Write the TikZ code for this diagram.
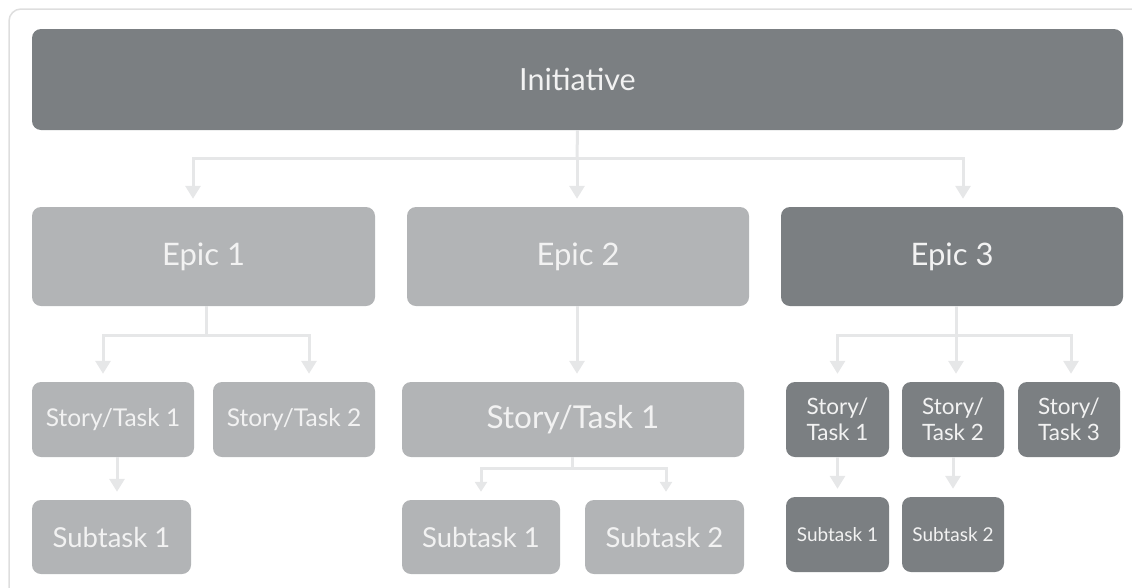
\documentclass[tikz,border=0pt]{standalone}
\usepackage{fontspec}
\setmainfont{Lato}
\usetikzlibrary{arrows.meta}

\definecolor{darkbox}{HTML}{7B7F82}
\definecolor{lightbox}{HTML}{B2B4B6}
\definecolor{linkgray}{HTML}{E6E7E8}
\definecolor{framegray}{HTML}{DEDEDE}

\tikzset{
    box/.style={rounded corners=9pt, inner sep=0pt, align=center, text=white!95!black},
    darkfill/.style={box, fill=darkbox},
    lightfill/.style={box, fill=lightbox},
    link/.style={draw=linkgray, line width=3pt},
    linkarrow/.style={link, -{Triangle[width=15pt,length=13pt]}, shorten >=8pt},
}

\begin{document}
\begin{tikzpicture}[x=1pt, y=-1pt]
    \useasboundingbox (0,0) rectangle (1132,587);

        % Outer frame
        \draw[framegray, line width=1.5pt, rounded corners=12pt] (9,600) -- (9,9) -- (1145,9);

        % Top level
        \node[darkfill, minimum width=1091pt, minimum height=101pt, font=\fontsize{30.5}{36}\selectfont] (init) at (577.5,79.5) {Initiative};

        % Epics
        \node[lightfill, minimum width=343pt, minimum height=99pt, font=\fontsize{31}{36}\selectfont] (epicA) at (203.5,256.5) {Epic 1};
        \node[lightfill, minimum width=342pt, minimum height=99pt, font=\fontsize{31}{36}\selectfont] (epicB) at (578,256.5) {Epic 2};
        \node[darkfill, minimum width=342pt, minimum height=99pt, font=\fontsize{31}{36}\selectfont] (epicC) at (952,256.5) {Epic 3};

        % Stories under Epic 1
        \node[lightfill, minimum width=162pt, minimum height=75pt, font=\fontsize{24.5}{29}\selectfont] (storyA1) at (113,419.5) {Story/Task 1};
        \node[lightfill, minimum width=162pt, minimum height=75pt, font=\fontsize{24.5}{29}\selectfont] (storyA2) at (294,419.5) {Story/Task 2};
        \node[lightfill, minimum width=159pt, minimum height=74pt, font=\fontsize{27.5}{32}\selectfont] (subA1) at (111.5,537) {Subtask 1};

        % Story under Epic 2
        \node[lightfill, minimum width=342pt, minimum height=75pt, font=\fontsize{31.5}{36}\selectfont] (storyB1) at (573,419.5) {Story/Task 1};
        \node[lightfill, minimum width=158pt, minimum height=74pt, font=\fontsize{27.5}{32}\selectfont] (subB1) at (481,537) {Subtask 1};
        \node[lightfill, minimum width=159pt, minimum height=74pt, font=\fontsize{27.5}{32}\selectfont] (subB2) at (664.5,537) {Subtask 2};

        % Stories under Epic 3
        \node[darkfill, minimum width=103pt, minimum height=75pt, font=\fontsize{22.5}{26}\selectfont] (storyC1) at (837.5,419.5) {Story/\\Task 1};
        \node[darkfill, minimum width=102pt, minimum height=75pt, font=\fontsize{22.5}{26}\selectfont] (storyC2) at (953,419.5) {Story/\\Task 2};
        \node[darkfill, minimum width=102pt, minimum height=75pt, font=\fontsize{22.5}{26}\selectfont] (storyC3) at (1069,419.5) {Story/\\Task 3};
        \node[darkfill, minimum width=103pt, minimum height=75pt, font=\fontsize{19}{22}\selectfont] (subC1) at (837.5,534.5) {Subtask 1};
        \node[darkfill, minimum width=102pt, minimum height=75pt, font=\fontsize{19}{22}\selectfont] (subC2) at (953,534.5) {Subtask 2};

        % Branch points
        \coordinate (hubI) at (577,158);
        \coordinate (hubA) at (206,335);
        \coordinate (hubC) at (956,335);
        \coordinate (hubB) at (572,468);

        % Initiative to epics
        \draw[link] (init.south) -- (hubI);
        \draw[linkarrow] (hubI) -| ([xshift=-10.5pt]epicA.north);
        \draw[linkarrow] (hubI) -- (epicB.north -| hubI);
        \draw[linkarrow] (hubI) -| ([xshift=11pt]epicC.north);

        % Epic 1 to stories
        \draw[link] (epicA.south -| hubA) -- (hubA);
        \draw[linkarrow] (hubA) -| ([xshift=-10pt]storyA1.north);
        \draw[linkarrow] (hubA) -| ([xshift=15pt]storyA2.north);
        \draw[linkarrow] ([xshift=4pt]storyA1.south) -- ([xshift=5.5pt]subA1.north);

        % Epic 2 to story
        \draw[linkarrow] (epicB.south -| hubI) -- (storyB1.north -| hubI);
        \draw[link] (storyB1.south -| hubB) -- (hubB);
        \draw[linkarrow, -{Triangle[width=12pt,length=10pt]}] (hubB) -| (subB1.north);
        \draw[linkarrow, -{Triangle[width=12pt,length=10pt]}] (hubB) -| ([xshift=1.5pt]subB2.north);

        % Epic 3 to stories
        \draw[link] (epicC.south -| hubC) -- (hubC);
        \draw[linkarrow] (hubC) -| (storyC1.north);
        \draw[linkarrow] (hubC) -- (storyC2.north -| hubC);
        \draw[linkarrow] (hubC) -| ([xshift=2pt]storyC3.north);
        \draw[linkarrow] (storyC1.south) -- (subC1.north);
        \draw[linkarrow] (storyC2.south) -- (subC2.north);

\end{tikzpicture}
\end{document}
